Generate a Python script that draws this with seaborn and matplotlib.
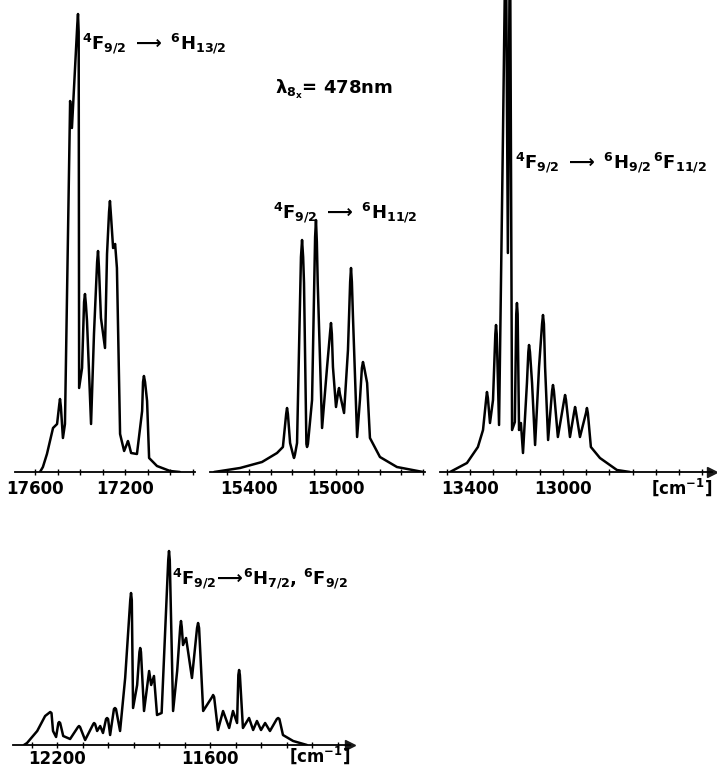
import matplotlib
matplotlib.use("Agg")
import matplotlib.pyplot as plt
import seaborn as sns
from matplotlib.ticker import MultipleLocator

# Emission spectrum: wavenumber [cm-1] and intensity (arb. units)
wn_h13 = [17578, 17565, 17547, 17520, 17502, 17492, 17489, 17485, 17476, 17467, 17444, 17436,
          17412, 17409, 17406, 17404, 17391, 17382, 17378, 17374, 17369, 17351, 17338, 17324,
          17320, 17316, 17307, 17289, 17280, 17271, 17267, 17262, 17253, 17244, 17236, 17222,
          17204, 17190, 17187, 17183, 17173, 17147, 17124, 17120, 17116, 17111, 17102, 17093,
          17058, 17000, 16956]
int_h13 = [0, 5, 18, 44, 48, 68, 73, 65, 34, 48, 371, 344,
           448, 458, 440, 84, 104, 170, 178, 168, 151, 48, 138, 210,
           221, 205, 154, 124, 218, 260, 271, 255, 224, 228, 204, 38,
           21, 29, 31, 28, 19, 18, 61, 90, 96, 90, 71, 14,
           6, 1, 0]

wn_h11 = [15560, 15441, 15340, 15271, 15244, 15229, 15225, 15221, 15211, 15197, 15193, 15189,
          15179, 15161, 15156, 15151, 15147, 15136, 15133, 15129, 15110, 15096, 15092, 15088,
          15084, 15064, 15041, 15027, 15023, 15019, 15014, 15000, 14990, 14986, 14982, 14963,
          14945, 14935, 14931, 14927, 14922, 14903, 14890, 14881, 14876, 14870, 14857, 14844,
          14798, 14720, 14600]
int_h11 = [0, 4, 10, 19, 25, 58, 64, 58, 29, 17, 14, 17,
           29, 215, 232, 215, 189, 28, 25, 28, 72, 235, 252, 230,
           189, 44, 105, 140, 149, 138, 105, 65, 80, 84, 78, 59,
           122, 190, 204, 190, 155, 35, 72, 104, 110, 104, 89, 34,
           15, 5, 0]

wn_h9 = [13486, 13413, 13366, 13344, 13330, 13327, 13323, 13314, 13301, 13291, 13288, 13285,
         13275, 13258, 13246, 13237, 13228, 13219, 13207, 13201, 13198, 13195, 13189, 13181,
         13172, 13155, 13149, 13146, 13142, 13133, 13120, 13103, 13090, 13086, 13082, 13077,
         13064, 13047, 13043, 13039, 13022, 12995, 12991, 12987, 12970, 12952, 12948, 12944,
         12927, 12901, 12897, 12893, 12880, 12841, 12768, 12712]
int_h9 = [0, 9, 25, 42, 74, 80, 74, 49, 72, 138, 147, 138,
          47, 339, 560, 219, 560, 42, 50, 158, 169, 158, 42, 49,
          19, 89, 120, 127, 120, 89, 27, 105, 148, 157, 148, 105,
          32, 81, 87, 81, 35, 72, 77, 72, 35, 60, 65, 60,
          35, 59, 64, 59, 25, 14, 2, 0]

wn_h7 = [12330, 12318, 12278, 12247, 12232, 12227, 12222, 12216, 12204, 12195, 12192, 12188,
         12176, 12149, 12118, 12114, 12110, 12090, 12058, 12055, 12051, 12043, 12031, 12020,
         12008, 12004, 12000, 11992, 11977, 11973, 11969, 11953, 11933, 11913, 11910, 11907,
         11902, 11886, 11877, 11874, 11871, 11859, 11839, 11831, 11820, 11808, 11790, 11764,
         11761, 11758, 11745, 11729, 11717, 11714, 11711, 11706, 11694, 11671, 11651, 11647,
         11643, 11627, 11592, 11588, 11584, 11569, 11549, 11525, 11510, 11494, 11489, 11486,
         11483, 11471, 11447, 11431, 11416, 11400, 11384, 11365, 11338, 11333, 11328, 11314,
         11274, 11220]
int_h7 = [0, 2, 14, 29, 32, 33, 32, 14, 8, 22, 23, 22,
          9, 6, 18, 19, 18, 5, 21, 22, 21, 14, 19, 12,
          26, 27, 26, 10, 36, 37, 36, 14, 67, 145, 152, 145,
          37, 60, 93, 97, 93, 34, 74, 60, 69, 30, 32, 185,
          194, 185, 34, 74, 118, 124, 118, 100, 107, 67, 117, 122,
          117, 34, 48, 50, 48, 15, 34, 17, 34, 22, 70, 75,
          70, 17, 27, 15, 24, 15, 22, 14, 26, 27, 26, 10,
          4, 0]

sns.set_theme(style="white")
plt.rcParams["font.family"] = ["DejaVu Sans"]
plt.rcParams["mathtext.fontset"] = "dejavusans"
plt.rcParams["mathtext.default"] = "bf"
plt.rcParams["text.color"] = "black"

fig = plt.figure(figsize=(7.17, 7.69), dpi=100)


def panel(rect, wn, inten, xlim, ylim, majors, arrow=False, pad=3):
    ax = fig.add_axes(rect)
    sns.lineplot(x=wn, y=inten, ax=ax, color="black", lw=1.8, sort=False, estimator=None)
    ax.set_xlim(xlim)
    ax.set_ylim(ylim)
    ax.set_xticks(majors)
    ax.set_xticklabels([str(m) for m in majors], fontsize=12, fontweight="bold")
    ax.xaxis.set_minor_locator(MultipleLocator(100))
    ax.tick_params(axis="x", which="both", bottom=True, direction="inout",
                   length=5, width=1, colors="black", pad=pad)
    ax.set_yticks([])
    ax.set_xlabel("")
    ax.set_ylabel("")
    for s in ["top", "left", "right"]:
        ax.spines[s].set_visible(False)
    ax.spines["bottom"].set_color("black")
    ax.spines["bottom"].set_linewidth(1.3)
    ax.patch.set_alpha(0)
    if arrow:
        ax.plot(1, 0, ">k", ms=7, transform=ax.transAxes, clip_on=False)
    return ax


top_b = 297 / 769
top_h = 472 / 769
ax1 = panel([15 / 717, top_b, 180 / 717, top_h], wn_h13, int_h13, (17689, 16889), (0, 472), [17600, 17200])
ax2 = panel([210 / 717, top_b, 215 / 717, top_h], wn_h11, int_h11, (15579, 14591), (0, 472), [15400, 15000])
ax3 = panel([440 / 717, top_b, 272 / 717, top_h], wn_h9, int_h9, (13529, 12359), (0, 472), [13400, 13000], arrow=True)
ax4 = panel([13 / 717, 24 / 769, 337 / 717, 205 / 769], wn_h7, int_h7, (12373, 11051), (0, 205), [12200, 11600],
            arrow=True, pad=1)

fs = 13
ax1.text(17391, 428, r"$^4F_{9/2}\ \longrightarrow\ ^6H_{13/2}$", fontsize=fs, ha="left", va="center")
ax2.text(15280, 383, r"$\lambda_{8_x}$= 478nm", fontsize=fs, fontweight="bold", ha="left", va="center")
ax2.text(15290, 259, r"$^4F_{9/2}\ \longrightarrow\ ^6H_{11/2}$", fontsize=fs, ha="left", va="center")
ax3.text(13207, 309, r"$^4F_{9/2}\ \longrightarrow\ ^6H_{9/2}\,^6F_{11/2}$", fontsize=fs, ha="left", va="center")
ax4.text(11749, 166, r"$^4F_{9/2}\!\longrightarrow\!^6H_{7/2},\,^6F_{9/2}$", fontsize=fs, ha="left", va="center")

ax3.text(1.0, -0.032, r"[cm$^{-1}$]", transform=ax3.transAxes, fontsize=12,
         fontweight="bold", ha="right", va="center")
ax4.text(1.0, -0.05, r"[cm$^{-1}$]", transform=ax4.transAxes, fontsize=12,
         fontweight="bold", ha="right", va="center")

fig.savefig("out.png", dpi=100)
